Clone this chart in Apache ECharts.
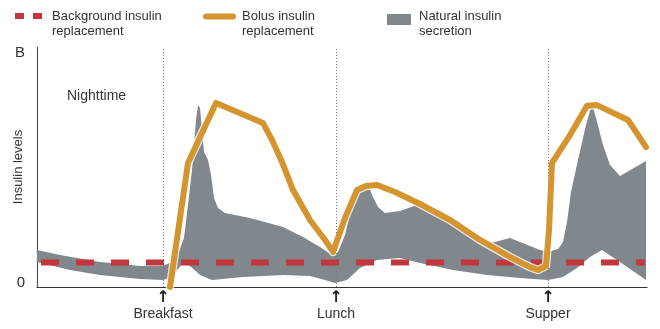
<!DOCTYPE html>
<html>
<head>
<meta charset="utf-8">
<script src="https://cdn.jsdelivr.net/npm/echarts@6/dist/echarts.min.js"></script>
<style>
html,body{margin:0;padding:0;background:#fff;}
#chart{width:660px;height:329px;}
</style>
</head>
<body>
<div id="chart"></div>
<script>
// ---- data (x: time units across the day, y: insulin level 0..100 where 100 = "B") ----
const meals = ['Breakfast', 'Lunch', 'Supper'];
const mealX = [126, 299, 511];
const yTickLabels = { 0: '0', 100: 'B' };

const backgroundInsulin = [[4, 10.2], [608, 10.2]];

const bolusInsulin = [
  [133, 0], [151, 51.7], [179, 76.7], [226, 68.3], [235, 61.3], [245, 52.1],
  [256, 40.4], [273, 27.9], [288, 19.6], [296, 14.6], [308, 28.8], [320, 40.4],
  [329, 42.1], [340, 42.5], [358, 39.6], [383, 34.6], [413, 27.9], [443, 19.6],
  [473, 12.5], [493, 8.3], [501, 7.1], [509, 8.75], [512, 23.75], [515, 51.7],
  [533, 63.3], [550, 75.5], [560, 75.8], [591, 69.6], [600, 64], [609, 58.3]
];

const naturalUpper = [
  [0, 15.4], [23, 13.3], [63, 10.4], [103, 8.75], [126, 8.75], [135, 10.4],
  [141, 13.75], [147, 20.4], [151, 34.2], [155, 48.75], [159, 69.6], [161, 75.8],
  [163, 74.6], [165, 65.4], [167, 56.25], [171, 52.9], [174, 46.7], [177, 37.1],
  [181, 32.9], [188, 30.8], [213, 28.75], [246, 25], [266, 20.8], [283, 16.7],
  [295, 13.3], [301, 14.6], [308, 21.7], [315, 34.2], [321, 40.4], [327, 42.1],
  [330, 44.2], [335, 38.3], [341, 33.3], [348, 30.8], [363, 31.7], [383, 34.6],
  [403, 32.1], [423, 27.1], [443, 17.9], [458, 18.75], [473, 20.4], [488, 17.9],
  [503, 15.4], [511, 14.6], [521, 15.8], [526, 18.75], [530, 27.1], [534, 39.6],
  [541, 52.9], [549, 67.5], [555, 76.25], [559, 70.4], [566, 59.2], [573, 50.8],
  [583, 46.25], [609, 52.5]
];

const naturalLower = [
  [0, 10.4], [33, 7.1], [63, 5], [103, 3.3], [126, 2.9], [135, 4.2], [141, 7.5],
  [146, 10], [153, 8.75], [163, 5], [175, 2.9], [206, 4.2], [246, 5], [273, 4.6],
  [288, 2.9], [298, 1.7], [310, 2.9], [323, 7.9], [340, 11.25], [363, 12.1],
  [383, 10], [416, 7.1], [450, 5], [483, 3.75], [511, 2.9], [526, 4.2],
  [540, 7.9], [553, 12.5], [565, 15.4], [583, 10.4], [609, 2.9]
];

const legendItems = [
  'Background insulin\nreplacement',
  'Bolus insulin\nreplacement',
  'Natural insulin\nsecretion'
];

// ---- chart ----
const FONT = '"Liberation Sans", Arial, sans-serif';
const TEXT = '#333';
const chart = echarts.init(document.getElementById('chart'), null, { renderer: 'canvas' });

const option = {
  animation: false,
  textStyle: { fontFamily: FONT },
  grid: { left: 37, right: 13, top: 47, bottom: 42, containLabel: false, outerBoundsMode: 'none' },
  xAxis: {
    type: 'value', min: 0, max: 610,
    splitLine: { show: false },
    axisTick: { show: false },
    axisLine: { show: true, lineStyle: { color: '#333', width: 1.2 } },
    axisLabel: {
      customValues: mealX,
      margin: 3,
      formatter: function (v) {
        const i = mealX.indexOf(v);
        return '{a|↑}\n{t|' + (i >= 0 ? meals[i] : '') + '}';
      },
      rich: {
        a: { fontSize: 16, lineHeight: 15, color: '#222', fontWeight: 'bold', fontFamily: '"DejaVu Sans"' },
        t: { fontSize: 14, lineHeight: 18, color: TEXT, fontFamily: FONT }
      }
    }
  },
  yAxis: {
    type: 'value', min: 0, max: 100, interval: 100,
    splitLine: { show: false },
    axisTick: { show: false },
    axisLine: { show: true, lineStyle: { color: '#555', width: 1.2 } },
    name: 'Insulin levels',
    nameLocation: 'middle',
    nameGap: 12,
    nameMoveOverlap: false,
    nameTextStyle: { fontSize: 13, color: TEXT, fontFamily: FONT },
    axisLabel: {
      margin: 12,
      formatter: function (v) {
        return v === 100 ? '{b|' + yTickLabels[100] + '}' : '{z|' + yTickLabels[0] + '}';
      },
      rich: {
        b: { fontSize: 15, color: TEXT, padding: [12, 0, 0, 0] },
        z: { fontSize: 15, color: TEXT, padding: [0, 0, 8, 0] }
      }
    }
  },
  graphic: [
    { type: 'text', left: 67, top: 89, style: { text: 'Nighttime', font: '14px ' + FONT, fill: TEXT } },
    // legend
    { type: 'rect', shape: { x: 15, y: 13, width: 9, height: 6 }, style: { fill: '#c1373b' } },
    { type: 'rect', shape: { x: 33, y: 13, width: 9, height: 6 }, style: { fill: '#c1373b' } },
    { type: 'text', x: 52, y: 9, style: { text: legendItems[0], font: '13px ' + FONT, fill: TEXT, lineHeight: 15 } },
    { type: 'rect', shape: { x: 203, y: 13.5, width: 33, height: 6, r: 3 }, style: { fill: '#d4952f' } },
    { type: 'text', x: 242, y: 9, style: { text: legendItems[1], font: '13px ' + FONT, fill: TEXT, lineHeight: 15 } },
    { type: 'rect', shape: { x: 387, y: 14, width: 24, height: 11 }, style: { fill: '#80878d' } },
    { type: 'text', x: 419, y: 9, style: { text: legendItems[2], font: '13px ' + FONT, fill: TEXT, lineHeight: 15 } }
  ],
  series: [
    {
      name: 'Natural insulin secretion',
      type: 'custom',
      silent: true,
      z: 1,
      data: [[0, 0]],
      renderItem: function (params, api) {
        const pts = naturalUpper.map(p => api.coord(p))
          .concat(naturalLower.slice().reverse().map(p => api.coord(p)));
        return { type: 'polygon', shape: { points: pts }, style: { fill: '#80878d' } };
      }
    },
    {
      name: 'Background insulin replacement',
      type: 'line',
      z: 3,
      data: backgroundInsulin,
      showSymbol: false,
      silent: true,
      lineStyle: { color: '#c1373b', width: 6, type: [18, 17], cap: 'butt' },
      markLine: {
        silent: true,
        symbol: 'none',
        label: { show: false },
        lineStyle: { color: '#777', width: 1, type: [1, 2] },
        data: mealX.map(x => ({ xAxis: x }))
      }
    },
    {
      name: 'halo',
      type: 'line',
      z: 4,
      data: bolusInsulin,
      showSymbol: false,
      silent: true,
      lineStyle: { color: 'rgba(255,255,255,0.8)', width: 8.5, cap: 'round', join: 'round' }
    },
    {
      name: 'Bolus insulin replacement',
      type: 'line',
      z: 5,
      data: bolusInsulin,
      showSymbol: false,
      silent: true,
      lineStyle: { color: '#d4952f', width: 6, cap: 'round', join: 'round' }
    }
  ]
};
chart.setOption(option);
</script>
</body>
</html>
